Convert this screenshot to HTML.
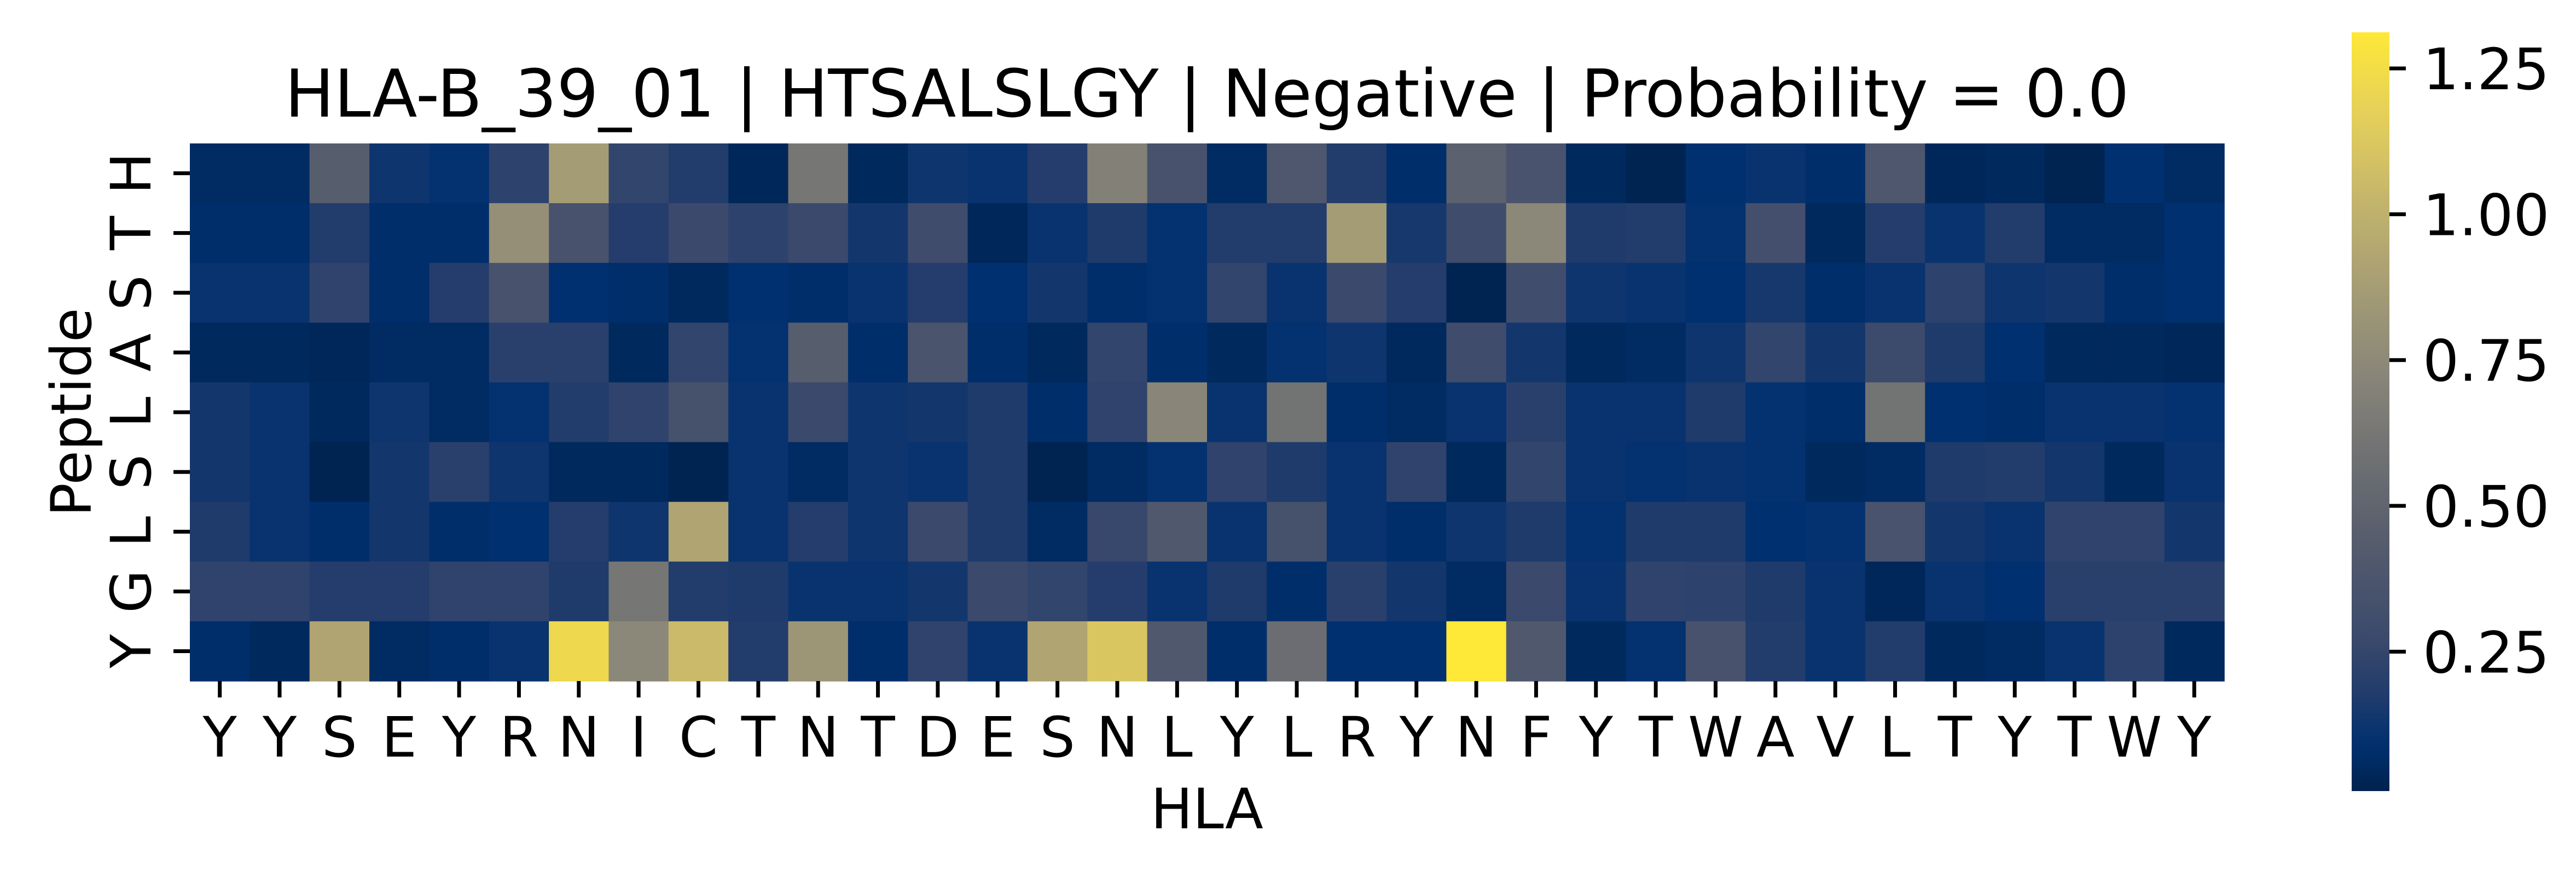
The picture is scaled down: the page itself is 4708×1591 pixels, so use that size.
<!DOCTYPE html>
<html><head><meta charset="utf-8"><style>
html,body{margin:0;padding:0;background:#fff;}
svg{display:block;font-family:"DejaVu Sans","Liberation Sans",sans-serif;}
</style></head><body>
<svg id="chart" width="4708" height="1591" viewBox="0 0 4708 1591" xmlns="http://www.w3.org/2000/svg">
<defs><linearGradient id="cbgrad" x1="0" y1="1" x2="0" y2="0"></linearGradient></defs>
<g id="cells"></g>
<g id="xticks"></g>
<g id="yticks"></g>
<text x="2206" y="213" font-size="120" text-anchor="middle">HLA-B_39_01 | HTSALSLGY | Negative | Probability = 0.0</text>
<text x="2206" y="1513" font-size="102" text-anchor="middle">HLA</text>
<text transform="translate(166,753) rotate(-90)" font-size="102" text-anchor="middle">Peptide</text>
<rect x="4298" y="59" width="69" height="1386" fill="url(#cbgrad)"/>
<g id="cbticks"></g>
</svg>
<script>
const hlaLabels = ["Y","Y","S","E","Y","R","N","I","C","T","N","T","D","E","S","N","L","Y","L","R","Y","N","F","Y","T","W","A","V","L","T","Y","T","W","Y"];
const peptideLabels = ["H","T","S","A","L","S","L","G","Y"];
const row0 = [.06,.06,.44,.13,.10,.22,.87,.24,.18,.04,.62,.05,.13,.11,.19,.69,.35,.06,.39,.18,.08,.47,.36,.05,.02,.09,.11,.08,.39,.04,.05,.02,.09,.06];
const row1 = [.08,.08,.18,.08,.08,.79,.35,.19,.27,.22,.27,.14,.30,.04,.11,.17,.10,.18,.18,.87,.15,.30,.74,.17,.18,.10,.32,.05,.19,.11,.18,.06,.06,.09];
const row2 = [.11,.11,.23,.08,.19,.35,.09,.08,.05,.09,.08,.11,.19,.09,.14,.08,.10,.24,.11,.27,.19,.02,.31,.13,.11,.09,.15,.08,.11,.22,.13,.14,.08,.09];
const row3 = [.05,.05,.04,.06,.06,.21,.21,.05,.24,.10,.44,.08,.37,.08,.05,.24,.08,.05,.10,.13,.05,.30,.14,.05,.06,.13,.24,.14,.28,.17,.09,.05,.05,.04];
const row4 = [.14,.11,.05,.13,.06,.10,.18,.23,.34,.11,.27,.13,.14,.17,.08,.23,.73,.11,.60,.08,.06,.11,.21,.11,.11,.17,.10,.08,.60,.09,.08,.11,.11,.10];
const row5 = [.14,.11,.02,.14,.21,.13,.05,.05,.02,.11,.06,.13,.11,.17,.02,.06,.10,.23,.17,.11,.23,.05,.24,.11,.10,.11,.10,.05,.06,.17,.18,.14,.05,.11];
const row6 = [.17,.11,.08,.14,.08,.09,.19,.13,.92,.11,.19,.13,.27,.17,.06,.26,.40,.11,.34,.11,.08,.13,.17,.10,.17,.17,.09,.10,.36,.14,.11,.23,.23,.14];
const row7 = [.23,.23,.19,.19,.23,.23,.17,.62,.18,.17,.11,.11,.14,.27,.24,.19,.11,.17,.08,.21,.14,.06,.27,.11,.23,.22,.17,.11,.04,.11,.09,.21,.21,.21];
const row8 = [.08,.05,.92,.06,.08,.11,1.22,.74,1.05,.18,.83,.08,.23,.11,.92,1.12,.40,.08,.56,.09,.09,1.31,.40,.05,.10,.35,.18,.11,.18,.05,.06,.11,.22,.05];
const rows = [row0,row1,row2,row3,row4,row5,row6,row7,row8];
const cbTickValues = [0.25,0.50,0.75,1.00,1.25];
const cbTickLabels = ["0.25","0.50","0.75","1.00","1.25"];
const vmin = 0.011, vmax = 1.312;

const NS="http://www.w3.org/2000/svg";
const stops=[[0,"#00224e"],[0.06,"#00306f"],[0.13,"#223c6c"],[0.2,"#3b496c"],[0.333,"#575d6d"],[0.444,"#707173"],[0.556,"#8a8779"],[0.667,"#a69d75"],[0.778,"#c4b56c"],[0.889,"#e4cf5b"],[1,"#fee838"]];
function hex(h){return [1,3,5].map(i=>parseInt(h.substr(i,2),16));}
function cmap(t){t=Math.max(0,Math.min(1,t));let i=0;while(i<stops.length-2&&t>stops[i+1][0])i++;const f=(t-stops[i][0])/(stops[i+1][0]-stops[i][0]);const a=hex(stops[i][1]),b=hex(stops[i+1][1]);return "rgb("+a.map((v,k)=>Math.round(v+(b[k]-v)*f)).join(",")+")";}
const X0=347,X1=4065,Y0=262,Y1=1244;
const cw=(X1-X0)/hlaLabels.length, ch=(Y1-Y0)/peptideLabels.length;
const xs=i=>X0+i*cw, ys=j=>Y0+j*ch;
const norm=v=>(v-vmin)/(vmax-vmin);
const cells=document.getElementById('cells');
rows.forEach((r,j)=>r.forEach((v,i)=>{
  const el=document.createElementNS(NS,'rect');
  
  
  el.setAttribute('x',xs(i));el.setAttribute('y',ys(j));
  el.setAttribute('width',cw+0.8);el.setAttribute('height',ch+0.8);
  el.setAttribute('fill',cmap(norm(v)));
  cells.appendChild(el);
}));
const xt=document.getElementById('xticks');
hlaLabels.forEach((l,i)=>{
  const cx=xs(i)+cw/2;
  const tk=document.createElementNS(NS,'line');
  
  
  tk.setAttribute('x1',cx);tk.setAttribute('x2',cx);tk.setAttribute('y1',Y1);tk.setAttribute('y2',Y1+30);
  tk.setAttribute('stroke','#000');tk.setAttribute('stroke-width','7');
  xt.appendChild(tk);
  const t=document.createElementNS(NS,'text');
  
  
  t.setAttribute('x',cx);t.setAttribute('y',1382);t.setAttribute('font-size','102');t.setAttribute('text-anchor','middle');
  t.textContent=l;xt.appendChild(t);
});
const yt=document.getElementById('yticks');
peptideLabels.forEach((l,j)=>{
  const cy=ys(j)+ch/2;
  const tk=document.createElementNS(NS,'line');
  
  
  tk.setAttribute('x1',X0-30);tk.setAttribute('x2',X0);tk.setAttribute('y1',cy);tk.setAttribute('y2',cy);
  tk.setAttribute('stroke','#000');tk.setAttribute('stroke-width','7');
  yt.appendChild(tk);
  const t=document.createElementNS(NS,'text');
  
  
  t.setAttribute('transform','translate(275,'+cy+') rotate(-90)');t.setAttribute('font-size','102');t.setAttribute('text-anchor','middle');
  t.textContent=l;yt.appendChild(t);
});
const g=document.getElementById('cbgrad');
for(let k=0;k<=40;k++){const s=document.createElementNS(NS,'stop');s.setAttribute('offset',k/40);s.setAttribute('stop-color',cmap(k/40));g.appendChild(s);}
const CB0=1445,CB1=59;
const cby=v=>CB0-(v-vmin)/(vmax-vmin)*(CB0-CB1);
const cbt=document.getElementById('cbticks');
cbTickValues.forEach((v,k)=>{
  const y=cby(v);
  const tk=document.createElementNS(NS,'line');
  
  
  tk.setAttribute('x1',4367);tk.setAttribute('x2',4397);tk.setAttribute('y1',y);tk.setAttribute('y2',y);
  tk.setAttribute('stroke','#000');tk.setAttribute('stroke-width','7');
  cbt.appendChild(tk);
  const t=document.createElementNS(NS,'text');
  
  
  t.setAttribute('x',4428);t.setAttribute('y',y+38);t.setAttribute('font-size','104');
  t.textContent=cbTickLabels[k];cbt.appendChild(t);
});
</script>
</body></html>
